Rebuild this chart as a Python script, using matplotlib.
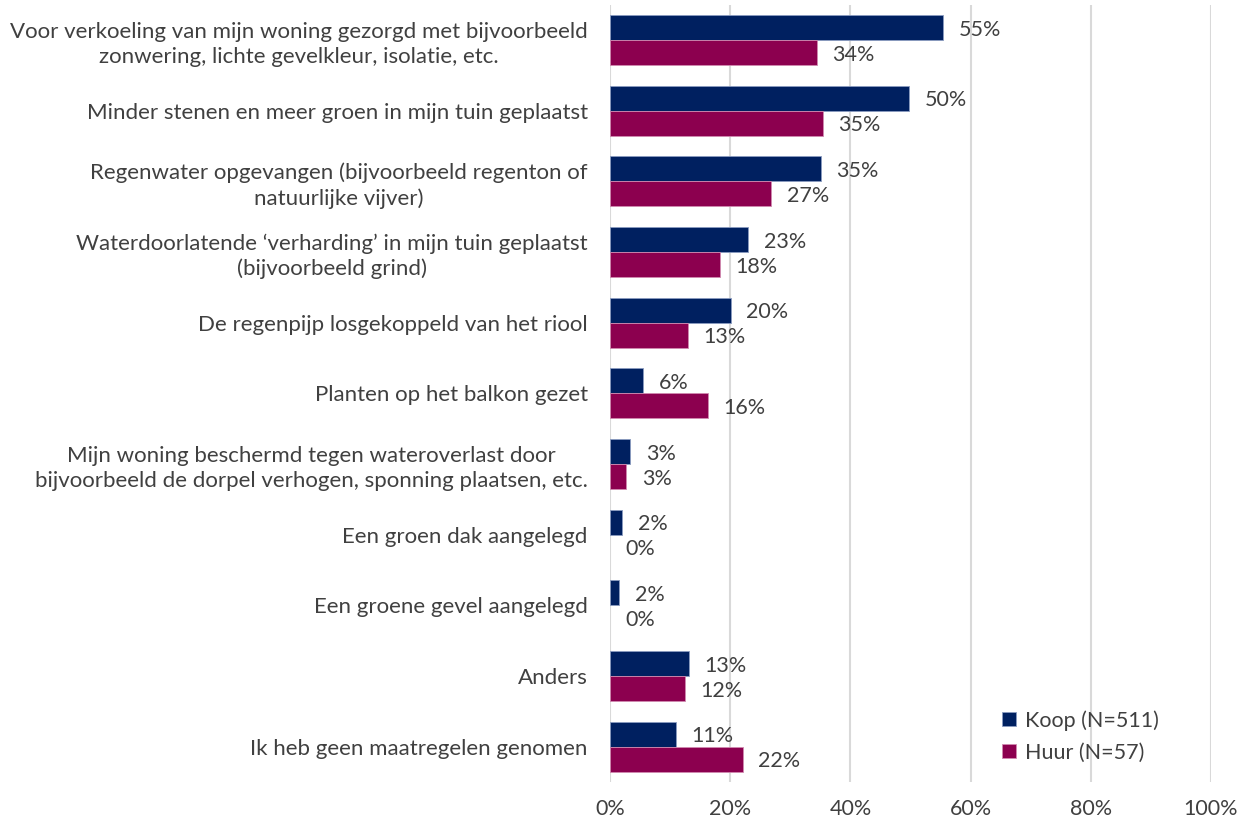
import matplotlib.pyplot as plt
import numpy as np

categories = [
    "Voor verkoeling van mijn woning gezorgd met bijvoorbeeld\nzonwering, lichte gevelkleur, isolatie, etc.",
    "Minder stenen en meer groen in mijn tuin geplaatst",
    "Regenwater opgevangen (bijvoorbeeld regenton of\nnatuurlijke vijver)",
    "Waterdoorlatende \u2018verharding\u2019 in mijn tuin geplaatst\n(bijvoorbeeld grind)",
    "De regenpijp losgekoppeld van het riool",
    "Planten op het balkon gezet",
    "Mijn woning beschermd tegen wateroverlast door\nbijvoorbeeld de dorpel verhogen, sponning plaatsen, etc.",
    "Een groen dak aangelegd",
    "Een groene gevel aangelegd",
    "Anders",
    "Ik heb geen maatregelen genomen",
]
koop = [55.4, 49.8, 35.1, 23.0, 20.1, 5.5, 3.4, 2.0, 1.5, 13.1, 11.0]
huur = [34.4, 35.4, 26.8, 18.3, 13.0, 16.3, 2.7, 0.0, 0.0, 12.5, 22.1]
series_names = ["Koop (N=511)", "Huur (N=57)"]
colors = ["#002060", "#8C004F"]
xticks = [0, 20, 40, 60, 80, 100]

plt.rcParams['font.family'] = ['Lato', 'DejaVu Sans']
txt = "#404040"

fig = plt.figure(figsize=(12.39, 8.21), dpi=100)
ax = fig.add_axes([0.4923, 0.0475, 0.4851, 0.9468])

y = np.arange(len(categories))
h = 0.355
for vals, off, col, edge, name in ((koop, -h / 2, colors[0], "#8a9cc0", series_names[0]),
                                   (huur, h / 2, colors[1], "#d08ab0", series_names[1])):
    bc = ax.barh(y + off, vals, height=h, color=col, edgecolor=edge,
                 linewidth=0.6, label=name, zorder=3)
    for p, v in zip(bc.patches, vals):
        if v == 0:
            p.set_linewidth(0)
    for i, v in enumerate(vals):
        ax.text(v + 2.6, i + off + 0.03, f"{round(v):.0f}%", va="center", ha="left",
                fontsize=15.5, color=txt)

ax.set_ylim(len(categories) - 0.5, -0.5)
ax.set_xlim(0, 100)
ax.set_yticks(y)
ax.set_yticklabels(categories, fontsize=16, color=txt, linespacing=1.3)
for lab in ax.get_yticklabels():
    lab.set_multialignment("center")
ax.set_xticks(xticks)
ax.set_xticklabels([f"{t}%" for t in xticks], fontsize=15.5, color=txt)
ax.tick_params(axis="both", length=0)
ax.tick_params(axis="y", pad=16)
ax.tick_params(axis="x", pad=12)
for s in ax.spines.values():
    s.set_visible(False)
ax.grid(axis="x", color="#d9d9d9", linewidth=1.5, zorder=0)

leg = ax.legend(loc="lower left", bbox_to_anchor=(0.62, 0.0), frameon=False,
                fontsize=15.5, handlelength=0.65, handleheight=0.65, handletextpad=0.4,
                labelspacing=0.55)
for t in leg.get_texts():
    t.set_color(txt)

fig.savefig("out.png", dpi=100)
